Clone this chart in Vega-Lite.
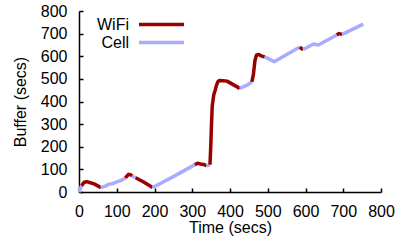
{
  "$schema": "https://vega.github.io/schema/vega-lite/v6.json",
  "width": 302,
  "height": 181,
  "autosize": "none",
  "padding": {"left": 79, "top": 11, "right": 14, "bottom": 54},
  "background": "white",
  "config": {
    "view": {"stroke": null},
    "font": "Liberation Sans",
    "axis": {
      "grid": false,
      "domainColor": "black",
      "domainWidth": 1.5,
      "tickColor": "black",
      "tickWidth": 1.5,
      "tickSize": -4,
      "labelFont": "Liberation Sans",
      "labelFontSize": 16,
      "labelColor": "black",
      "titleFont": "Liberation Sans",
      "titleFontSize": 16,
      "titleFontWeight": "normal",
      "titleColor": "black"
    },
    "legend": {
      "labelFont": "Liberation Sans",
      "labelFontSize": 16,
      "labelColor": "black"
    }
  },
  "data": {
    "values": [
      {"t": 0, "buf": 0, "net": "Cell", "seg": 1},
      {"t": 7, "buf": 28, "net": "Cell", "seg": 1},
      {"t": 7, "buf": 28, "net": "WiFi", "seg": 2},
      {"t": 13, "buf": 42, "net": "WiFi", "seg": 2},
      {"t": 20, "buf": 46, "net": "WiFi", "seg": 2},
      {"t": 28, "buf": 42, "net": "WiFi", "seg": 2},
      {"t": 40, "buf": 36, "net": "WiFi", "seg": 2},
      {"t": 52, "buf": 25, "net": "WiFi", "seg": 2},
      {"t": 58, "buf": 19, "net": "WiFi", "seg": 2},
      {"t": 58, "buf": 19, "net": "Cell", "seg": 3},
      {"t": 70, "buf": 26, "net": "Cell", "seg": 3},
      {"t": 80, "buf": 35, "net": "Cell", "seg": 3},
      {"t": 88, "buf": 36, "net": "Cell", "seg": 3},
      {"t": 100, "buf": 45, "net": "Cell", "seg": 3},
      {"t": 110, "buf": 50, "net": "Cell", "seg": 3},
      {"t": 123, "buf": 62, "net": "Cell", "seg": 3},
      {"t": 123, "buf": 62, "net": "WiFi", "seg": 4},
      {"t": 131, "buf": 78, "net": "WiFi", "seg": 4},
      {"t": 137, "buf": 76, "net": "WiFi", "seg": 4},
      {"t": 141, "buf": 71, "net": "WiFi", "seg": 4},
      {"t": 141, "buf": 71, "net": "Cell", "seg": 5},
      {"t": 150, "buf": 63, "net": "Cell", "seg": 5},
      {"t": 150, "buf": 63, "net": "WiFi", "seg": 6},
      {"t": 170, "buf": 45, "net": "WiFi", "seg": 6},
      {"t": 195, "buf": 20, "net": "WiFi", "seg": 6},
      {"t": 195, "buf": 20, "net": "Cell", "seg": 7},
      {"t": 250, "buf": 68, "net": "Cell", "seg": 7},
      {"t": 307, "buf": 121, "net": "Cell", "seg": 7},
      {"t": 307, "buf": 121, "net": "WiFi", "seg": 8},
      {"t": 314, "buf": 127, "net": "WiFi", "seg": 8},
      {"t": 322, "buf": 124, "net": "WiFi", "seg": 8},
      {"t": 330, "buf": 122, "net": "WiFi", "seg": 8},
      {"t": 338, "buf": 116, "net": "WiFi", "seg": 8},
      {"t": 338, "buf": 116, "net": "Cell", "seg": 9},
      {"t": 347, "buf": 121, "net": "Cell", "seg": 9},
      {"t": 347, "buf": 121, "net": "WiFi", "seg": 10},
      {"t": 349, "buf": 200, "net": "WiFi", "seg": 10},
      {"t": 351, "buf": 300, "net": "WiFi", "seg": 10},
      {"t": 353, "buf": 380, "net": "WiFi", "seg": 10},
      {"t": 357, "buf": 430, "net": "WiFi", "seg": 10},
      {"t": 360, "buf": 445, "net": "WiFi", "seg": 10},
      {"t": 364, "buf": 470, "net": "WiFi", "seg": 10},
      {"t": 368, "buf": 488, "net": "WiFi", "seg": 10},
      {"t": 372, "buf": 493, "net": "WiFi", "seg": 10},
      {"t": 382, "buf": 492, "net": "WiFi", "seg": 10},
      {"t": 392, "buf": 490, "net": "WiFi", "seg": 10},
      {"t": 426, "buf": 458, "net": "WiFi", "seg": 10},
      {"t": 426, "buf": 458, "net": "Cell", "seg": 11},
      {"t": 445, "buf": 472, "net": "Cell", "seg": 11},
      {"t": 458, "buf": 487, "net": "Cell", "seg": 11},
      {"t": 458, "buf": 487, "net": "WiFi", "seg": 12},
      {"t": 462, "buf": 520, "net": "WiFi", "seg": 12},
      {"t": 466, "buf": 580, "net": "WiFi", "seg": 12},
      {"t": 470, "buf": 605, "net": "WiFi", "seg": 12},
      {"t": 475, "buf": 608, "net": "WiFi", "seg": 12},
      {"t": 485, "buf": 600, "net": "WiFi", "seg": 12},
      {"t": 492, "buf": 597, "net": "WiFi", "seg": 12},
      {"t": 492, "buf": 597, "net": "Cell", "seg": 13},
      {"t": 517, "buf": 576, "net": "Cell", "seg": 13},
      {"t": 585, "buf": 641, "net": "Cell", "seg": 13},
      {"t": 585, "buf": 641, "net": "WiFi", "seg": 14},
      {"t": 590, "buf": 633, "net": "WiFi", "seg": 14},
      {"t": 594, "buf": 630, "net": "WiFi", "seg": 14},
      {"t": 594, "buf": 630, "net": "Cell", "seg": 15},
      {"t": 621, "buf": 654, "net": "Cell", "seg": 15},
      {"t": 634, "buf": 650, "net": "Cell", "seg": 15},
      {"t": 683, "buf": 694, "net": "Cell", "seg": 15},
      {"t": 683, "buf": 694, "net": "WiFi", "seg": 16},
      {"t": 688, "buf": 700, "net": "WiFi", "seg": 16},
      {"t": 697, "buf": 697, "net": "WiFi", "seg": 16},
      {"t": 697, "buf": 697, "net": "Cell", "seg": 17},
      {"t": 753, "buf": 742, "net": "Cell", "seg": 17}
    ]
  },
  "mark": {"type": "line", "strokeWidth": 3.5, "strokeCap": "butt", "strokeJoin": "round"},
  "encoding": {
    "x": {
      "field": "t", "type": "quantitative",
      "scale": {"domain": [0, 800], "nice": false},
      "axis": {"title": "Time (secs)", "values": [0, 100, 200, 300, 400, 500, 600, 700, 800], "labelPadding": 15, "titlePadding": 0, "labelFlush": false}
    },
    "y": {
      "field": "buf", "type": "quantitative",
      "scale": {"domain": [0, 800], "nice": false},
      "axis": {"title": "Buffer (secs)", "values": [0, 100, 200, 300, 400, 500, 600, 700, 800], "labelPadding": 16, "titlePadding": 12, "labelFlush": false}
    },
    "color": {
      "field": "net", "type": "nominal",
      "scale": {"domain": ["WiFi", "Cell"], "range": ["#990000", "#aaaaff"]},
      "legend": {
        "title": null,
        "orient": "none",
        "legendX": 73,
        "legendY": 4,
        "padding": 0,
        "symbolType": "M-3,0H3",
        "symbolSize": 225,
        "symbolStrokeWidth": 3.5,
        "labelAlign": "right",
        "labelOffset": -42,
        "rowPadding": -2
      }
    },
    "detail": {"field": "seg", "type": "nominal"},
    "order": {"field": "t", "type": "quantitative"}
  }
}
